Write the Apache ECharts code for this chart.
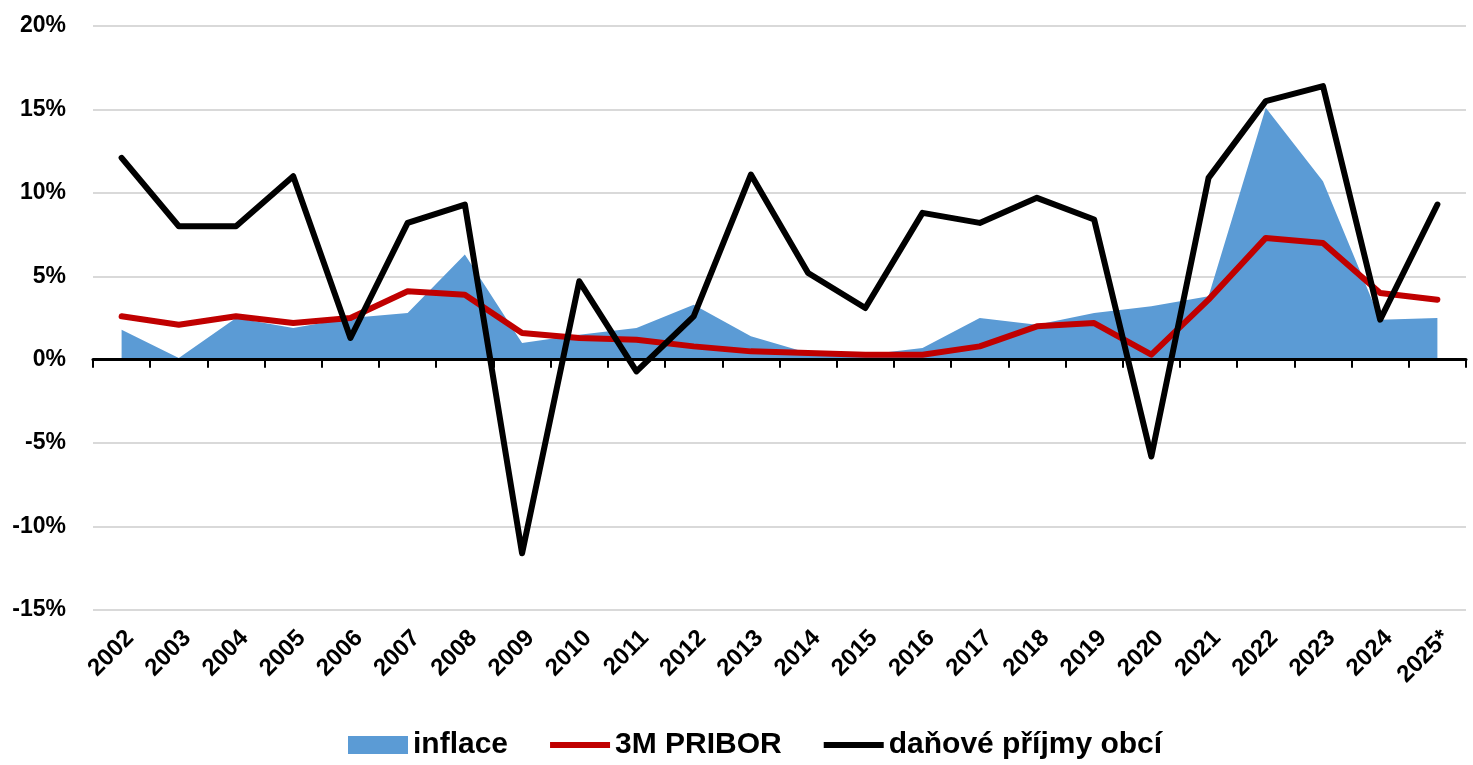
<!DOCTYPE html>
<html>
<head>
    <meta charset="utf-8">
    <title>inflace, 3M PRIBOR, daňové příjmy obcí</title>
    <script src="https://cdnjs.cloudflare.com/ajax/libs/echarts/6.0.0/echarts.min.js"></script>
    <style>
        html, body { margin: 0; padding: 0; background: #fff; }
        #chart_div { width: 1473px; height: 765px; }
    </style>
</head>
<body>
    <div id="chart_div"></div>

    <script>
        // roky
        const years = ['2002', '2003', '2004', '2005', '2006', '2007', '2008', '2009', '2010', '2011', '2012', '2013',
            '2014', '2015', '2016', '2017', '2018', '2019', '2020', '2021', '2022', '2023', '2024', '2025*'];

        // hodnoty v %
        const inflace = [1.8, 0.1, 2.5, 1.9, 2.5, 2.8, 6.3, 1.0, 1.5, 1.9, 3.3, 1.4,
            0.4, 0.3, 0.7, 2.5, 2.1, 2.8, 3.2, 3.8, 15.1, 10.7, 2.4, 2.5];
        const pribor = [2.6, 2.1, 2.6, 2.2, 2.5, 4.1, 3.9, 1.6, 1.3, 1.2, 0.8, 0.5,
            0.4, 0.3, 0.3, 0.8, 2.0, 2.2, 0.3, 3.6, 7.3, 7.0, 4.0, 3.6];
        const danovePrijmy = [12.1, 8.0, 8.0, 11.0, 1.3, 8.2, 9.3, -11.6, 4.7, -0.7, 2.6, 11.1,
            5.2, 3.1, 8.8, 8.2, 9.7, 8.4, -5.8, 10.9, 15.5, 16.4, 2.4, 9.3];

        const yTicks = { min: -15, max: 20, step: 5 };

        const font = '"Liberation Sans", Arial, sans-serif';
        const lineIcon = 'path://M0,0H60V6H0Z';
        const myChart = echarts.init(document.getElementById('chart_div'));

        const option = {
            animation: false,
            textStyle: { fontFamily: font },
            grid: { left: 93, right: 7, top: 26, bottom: 155 },
            legend: {
                bottom: 0,
                left: 343,
                itemWidth: 60,
                itemHeight: 18,
                itemGap: 42,
                symbolKeepAspect: true,
                textStyle: { fontSize: 30, fontWeight: 'bold', color: '#000', fontFamily: font },
                data: [
                    { name: 'inflace', icon: 'rect' },
                    { name: '3M PRIBOR', icon: lineIcon },
                    { name: 'daňové příjmy obcí', icon: lineIcon }
                ]
            },
            xAxis: [
                {
                    type: 'category',
                    data: years,
                    boundaryGap: true,
                    axisLine: { onZero: true, lineStyle: { color: '#000', width: 3 } },
                    axisTick: { show: true, length: 8, lineStyle: { color: '#000', width: 2 } },
                    axisLabel: { show: false },
                    z: 5
                },
                {
                    type: 'category',
                    data: years,
                    position: 'bottom',
                    boundaryGap: true,
                    axisLine: { show: false, onZero: false },
                    axisTick: { show: false },
                    axisLabel: {
                        rotate: 45,
                        margin: 16,
                        interval: 0,
                        fontSize: 24,
                        fontWeight: 'bold',
                        color: '#000',
                        fontFamily: font,
                        verticalAlign: 'top'
                    }
                }
            ],
            yAxis: {
                type: 'value',
                min: yTicks.min,
                max: yTicks.max,
                interval: yTicks.step,
                axisLine: { show: false },
                axisTick: { show: false },
                splitLine: { lineStyle: { color: '#d9d9d9', width: 2 } },
                axisLabel: {
                    formatter: '{value}%',
                    margin: 27,
                    fontSize: 23,
                    fontWeight: 'bold',
                    color: '#000',
                    fontFamily: font
                }
            },
            series: [
                {
                    name: 'inflace',
                    type: 'line',
                    data: inflace,
                    symbol: 'none',
                    lineStyle: { width: 0 },
                    areaStyle: { color: '#5b9bd5', opacity: 1 },
                    itemStyle: { color: '#5b9bd5' },
                    z: 1
                },
                {
                    name: '3M PRIBOR',
                    type: 'line',
                    data: pribor,
                    symbol: 'none',
                    lineStyle: { color: '#c00000', width: 6, cap: 'round', join: 'round' },
                    itemStyle: { color: '#c00000' },
                    z: 3
                },
                {
                    name: 'daňové příjmy obcí',
                    type: 'line',
                    data: danovePrijmy,
                    symbol: 'none',
                    lineStyle: { color: '#000', width: 6, cap: 'round', join: 'round' },
                    itemStyle: { color: '#000' },
                    z: 4
                }
            ]
        };

        myChart.setOption(option);

        window.addEventListener('resize', () => {
            myChart.resize();
        });
    </script>
</body>
</html>
